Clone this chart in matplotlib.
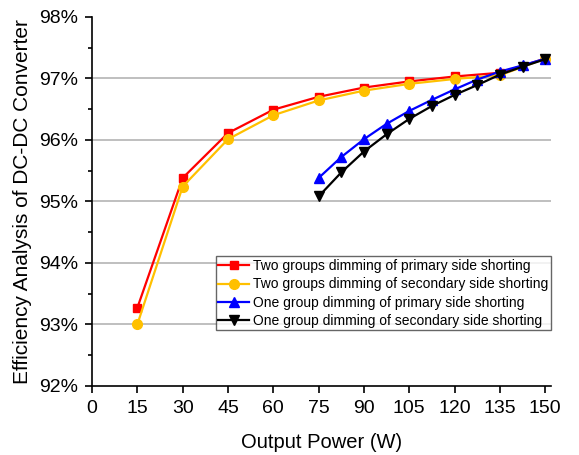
import matplotlib
matplotlib.use('Agg')
import matplotlib.pyplot as plt
from matplotlib.ticker import MultipleLocator, FuncFormatter

plt.rcParams['font.family'] = ['Liberation Sans', 'DejaVu Sans']

# data
x_two = [15, 30, 45, 60, 75, 90, 105, 120, 135, 150]
two_primary = [93.27, 95.38, 96.11, 96.49, 96.70, 96.85, 96.95, 97.03, 97.09, 97.32]
two_secondary = [93.00, 95.24, 96.01, 96.40, 96.64, 96.80, 96.91, 96.99, 97.05, 97.32]

x_one = [75, 82.5, 90, 97.5, 105, 112.5, 120, 127.5, 135, 142.5, 150]
one_primary = [95.38, 95.72, 96.01, 96.26, 96.47, 96.65, 96.82, 96.98, 97.11, 97.21, 97.32]
one_secondary = [95.08, 95.47, 95.81, 96.09, 96.34, 96.55, 96.73, 96.89, 97.06, 97.19, 97.31]

labels = ['Two groups dimming of primary side shorting',
          'Two groups dimming of secondary side shorting',
          'One group dimming of primary side shorting',
          'One group dimming of secondary side shorting']

fig = plt.figure(figsize=(5.79, 4.55), dpi=100)
ax = fig.add_axes([0.159, 0.152, 0.793, 0.811])

ax.plot(x_two, two_primary, color='#ff0000', marker='s', ms=6, lw=1.6, label=labels[0])
ax.plot(x_two, two_secondary, color='#ffc000', marker='o', ms=7, lw=1.6, label=labels[1])
ax.plot(x_one, one_primary, color='#0000ff', marker='^', ms=7, lw=1.6, label=labels[2])
ax.plot(x_one, one_secondary, color='#000000', marker='v', ms=7, lw=1.6, label=labels[3])

ax.set_xlim(0, 152)
ax.set_ylim(92, 98)
ax.xaxis.set_major_locator(MultipleLocator(15))
ax.yaxis.set_major_locator(MultipleLocator(1))
ax.yaxis.set_minor_locator(MultipleLocator(0.5))
ax.yaxis.set_major_formatter(FuncFormatter(lambda v, p: '%d%%' % round(v)))

for v in [93, 94, 95, 96, 97]:
    ax.axhline(v, color='#b4b4b4', lw=1.2, zorder=0)

ax.spines['top'].set_visible(False)
ax.spines['right'].set_visible(False)
ax.spines['left'].set_linewidth(1.2)
ax.spines['bottom'].set_linewidth(1.2)
ax.tick_params(axis='both', which='major', labelsize=14, length=5, width=1.2, direction='out')
ax.tick_params(axis='x', which='major', pad=5)
ax.tick_params(axis='y', which='major', pad=5)
ax.tick_params(axis='y', which='minor', length=3, width=1.2)

ax.set_xlabel('Output Power (W)', fontsize=14.5, labelpad=12)
ax.set_ylabel('Efficiency Analysis of DC-DC Converter', fontsize=15, labelpad=5)

leg = ax.legend(loc='lower right', bbox_to_anchor=(1.0, 0.15), fontsize=10,
                frameon=True, fancybox=False, edgecolor='#404040',
                borderpad=0.2, labelspacing=0.3, handlelength=2.2, handletextpad=0.3,
                borderaxespad=0)
leg.get_frame().set_linewidth(1.0)

fig.savefig('out.png', dpi=100)
